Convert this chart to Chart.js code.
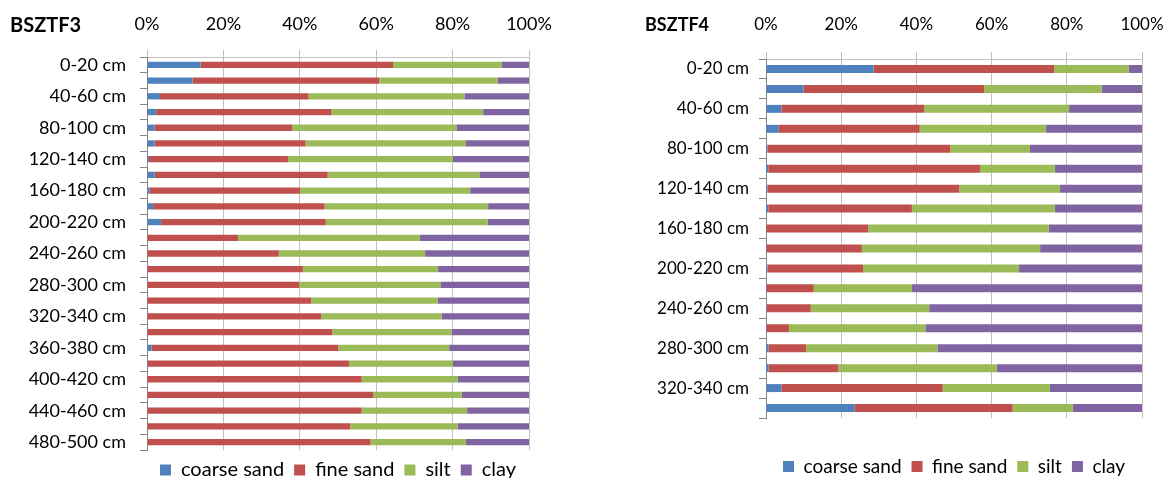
<!DOCTYPE html>
<html>
<head>
<meta charset="utf-8">
<title>BSZTF3 / BSZTF4 grain size</title>
<script src="https://cdn.jsdelivr.net/npm/chart.js@4.4.0/dist/chart.umd.min.js"></script>
<style>
  html, body { margin: 0; padding: 0; background: #fff; overflow: hidden; }
  body { width: 1169px; height: 478px; position: relative; }
  .panel { position: absolute; top: 0; height: 490px; }
  .panel h2 { position: absolute; z-index: 1; margin: 0; top: 12px; font: bold 20px/24px Lato, sans-serif; color: #000; }
  canvas { display: block; }
</style>
</head>
<body>
<div class="panel" style="left:0;width:585px">
  <h2 style="left:10px">BSZTF3</h2>
  <canvas id="chart-f3" width="585" height="490"></canvas>
</div>
<div class="panel" style="left:585px;width:584px">
  <h2 style="left:60px;font-size:18px">BSZTF4</h2>
  <canvas id="chart-f4" width="584" height="490"></canvas>
</div>
<script>
// Series names and colours (Excel 2007 palette)
const seriesNames = ['coarse sand', 'fine sand', 'silt', 'clay'];
const seriesColors = ['#4F81BD', '#C0504D', '#9BBB59', '#8064A2'];
const percentTicks = ['0%', '20%', '40%', '60%', '80%', '100%'];

// BSZTF3 profile
const depthsF3 = ['0-20 cm', '20-40 cm', '40-60 cm', '60-80 cm', '80-100 cm', '100-120 cm', '120-140 cm',
    '140-160 cm', '160-180 cm', '180-200 cm', '200-220 cm', '220-240 cm', '240-260 cm', '260-280 cm',
    '280-300 cm', '300-320 cm', '320-340 cm', '340-360 cm', '360-380 cm', '380-400 cm', '400-420 cm',
    '420-440 cm', '440-460 cm', '460-480 cm', '480-500 cm'];
const coarseF3 = [14.0, 11.9, 3.4, 2.4, 2.0, 2.0, 0.5, 2.0, 0.7, 1.6, 3.7, 0, 0, 0.1, 0, 0, 0, 0, 1.2, 0.2, 0, 0, 0, 0, 0];
const fineF3 = [50.4, 48.9, 38.9, 45.9, 36.0, 39.5, 36.4, 45.3, 39.4, 44.9, 43.1, 23.8, 34.5, 40.7, 39.8, 43.0, 45.6, 48.5, 48.9, 52.7, 56.2, 59.2, 56.2, 53.2, 58.5];
const siltF3 = [28.4, 31.0, 40.8, 39.7, 43.0, 42.0, 43.2, 39.7, 44.5, 42.8, 42.4, 47.6, 38.3, 35.4, 37.0, 33.1, 31.5, 31.2, 29.0, 27.2, 25.2, 23.2, 27.6, 28.1, 25.0];
const clayF3 = [7.2, 8.2, 16.9, 12.0, 19.0, 16.5, 19.9, 13.0, 15.4, 10.7, 10.8, 28.6, 27.2, 23.8, 23.2, 23.9, 22.9, 20.3, 20.9, 19.9, 18.6, 17.6, 16.2, 18.7, 16.5];

// BSZTF4 profile
const depthsF4 = ['0-20 cm', '20-40 cm', '40-60 cm', '60-80 cm', '80-100 cm', '100-120 cm', '120-140 cm',
    '140-160 cm', '160-180 cm', '180-200 cm', '200-220 cm', '220-240 cm', '240-260 cm', '260-280 cm',
    '280-300 cm', '300-320 cm', '320-340 cm', '340-360 cm'];
const coarseF4 = [28.6, 10.0, 4.1, 3.4, 0.4, 0.6, 0.4, 0.6, 0, 0, 0.4, 0, 0.2, 0, 0.7, 0.7, 4.1, 23.6];
const fineF4 = [48.0, 48.0, 38.0, 37.5, 48.6, 56.3, 51.0, 38.2, 27.2, 25.5, 25.4, 12.7, 11.7, 6.1, 10.0, 18.5, 42.9, 42.0];
const siltF4 = [19.9, 31.3, 38.5, 33.6, 21.2, 19.9, 26.8, 38.0, 48.0, 47.4, 41.5, 26.1, 31.5, 36.3, 34.9, 42.2, 28.5, 16.0];
const clayF4 = [3.5, 10.7, 19.4, 25.5, 29.8, 23.2, 21.8, 23.2, 24.8, 27.1, 32.7, 61.2, 56.6, 57.6, 54.4, 38.6, 24.5, 18.4];

// Moves the legend down a bit (Excel leaves a gap under the plot)
const legendShift = {
    id: 'legendShift',
    afterLayout(chart, args, opts) {
        const dy = opts.dy || 0;
        if (chart.legend && dy) {
            chart.legend.top += dy;
            chart.legend.bottom += dy;
        }
    }
};

function makeChart(canvasId, labels, series, frame) {
    const ctx = document.getElementById(canvasId).getContext('2d');
    const tickFont = { family: 'Lato', size: frame.tickSize };
    return new Chart(ctx, {
        type: 'bar',
        data: {
            labels: labels,
            datasets: series.map((values, i) => ({
                label: seriesNames[i],
                data: values,
                backgroundColor: seriesColors[i],
                borderWidth: 0,
                barPercentage: 0.4,
                categoryPercentage: 1
            }))
        },
        options: {
            indexAxis: 'y',
            responsive: false,
            animation: false,
            layout: {
                padding: { left: 0, top: 0, right: frame.padRight, bottom: frame.padBottom }
            },
            scales: {
                x: {
                    position: 'top',
                    stacked: true,
                    min: 0,
                    max: 100,
                    ticks: {
                        stepSize: 20,
                        color: '#000',
                        font: tickFont,
                        padding: frame.xPad,
                        callback: value => percentTicks[Math.round(value / 20)]
                    },
                    grid: { color: '#c0c0c0', tickLength: 7 },
                    border: { color: '#c0c0c0' },
                    afterFit: scale => {
                        scale.height = frame.axisHeight;
                        // let the "100%" label hang over the edge like in Excel
                        scale.paddingLeft = 0;
                        scale.paddingRight = 0;
                    }
                },
                y: {
                    stacked: true,
                    ticks: {
                        autoSkip: false,
                        color: '#000',
                        font: tickFont,
                        padding: frame.yPad,
                        // only every second depth is labelled
                        callback: (value, index) => index % 2 === 0 ? labels[index] : ''
                    },
                    grid: { drawOnChartArea: false, tickLength: 7, color: '#868686' },
                    border: { color: '#868686' },
                    afterFit: scale => { scale.width = frame.axisWidth; }
                }
            },
            plugins: {
                legend: {
                    position: 'bottom',
                    fullSize: false,
                    labels: {
                        color: '#000',
                        font: { family: 'Lato', size: frame.legendSize },
                        boxWidth: 11,
                        boxHeight: 11,
                        padding: 10
                    }
                },
                tooltip: { enabled: false },
                legendShift: { dy: frame.legendDy }
            }
        },
        plugins: [legendShift]
    });
}

makeChart('chart-f3', depthsF3, [coarseF3, fineF3, siltF3, clayF3], {
    axisWidth: 147, axisHeight: 57, padRight: 56, padBottom: 0, legendDy: 0,
    tickSize: 18, legendSize: 20, xPad: 15, yPad: 14
});
makeChart('chart-f4', depthsF4, [coarseF4, fineF4, siltF4, clayF4], {
    axisWidth: 181, axisHeight: 59, padRight: 27, padBottom: 33, legendDy: 29,
    tickSize: 17, legendSize: 19, xPad: 17, yPad: 10
});
</script>
</body>
</html>
